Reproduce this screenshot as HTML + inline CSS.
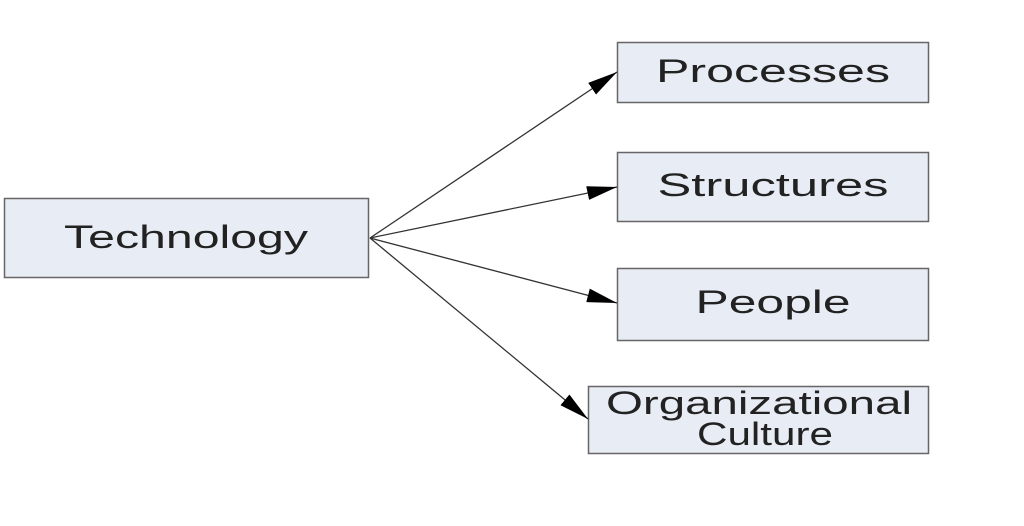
<!DOCTYPE html>
<html><head><style>
body{margin:0;background:#fff;width:1024px;height:521px;overflow:hidden}
svg text{font-family:"Liberation Sans",sans-serif;font-size:32px;fill:#222;text-anchor:middle}
</style></head><body>
<svg width="1024" height="521" viewBox="0 0 1024 521">
<defs>
<marker id="b" markerWidth="30" markerHeight="14" refX="30" refY="7" orient="auto" markerUnits="userSpaceOnUse"><path d="M0,0L30,7L0,14z" fill="#000"/></marker></defs>
<g fill="#e8ecf4" stroke="#666" stroke-width="1.5">
<rect x="4.5" y="198.5" width="364" height="79"/>
<rect x="617.5" y="42.5" width="311" height="60"/>
<rect x="617.5" y="152.5" width="311" height="69"/>
<rect x="617.5" y="268.5" width="311" height="72"/>
<rect x="588.5" y="386.5" width="340" height="67"/>
</g>
<g stroke="#333" stroke-width="1.3" fill="none">
<line x1="370" y1="238" x2="617" y2="72" marker-end="url(#b)"/>
<line x1="370" y1="238" x2="617" y2="187" marker-end="url(#b)"/>
<line x1="370" y1="238" x2="617" y2="303" marker-end="url(#b)"/>
<line x1="370" y1="238" x2="588" y2="419" marker-end="url(#b)"/>
</g>
<text x="186" y="248" textLength="244" lengthAdjust="spacingAndGlyphs">Technology</text>
<text x="773" y="82" textLength="234" lengthAdjust="spacingAndGlyphs">Processes</text>
<text x="773" y="196" textLength="231" lengthAdjust="spacingAndGlyphs">Structures</text>
<text x="773" y="313" textLength="155" lengthAdjust="spacingAndGlyphs">People</text>
<text x="759" y="414" textLength="306" lengthAdjust="spacingAndGlyphs">Organizational</text>
<text x="765" y="445" textLength="136" lengthAdjust="spacingAndGlyphs">Culture</text>
</svg>
</body></html>
